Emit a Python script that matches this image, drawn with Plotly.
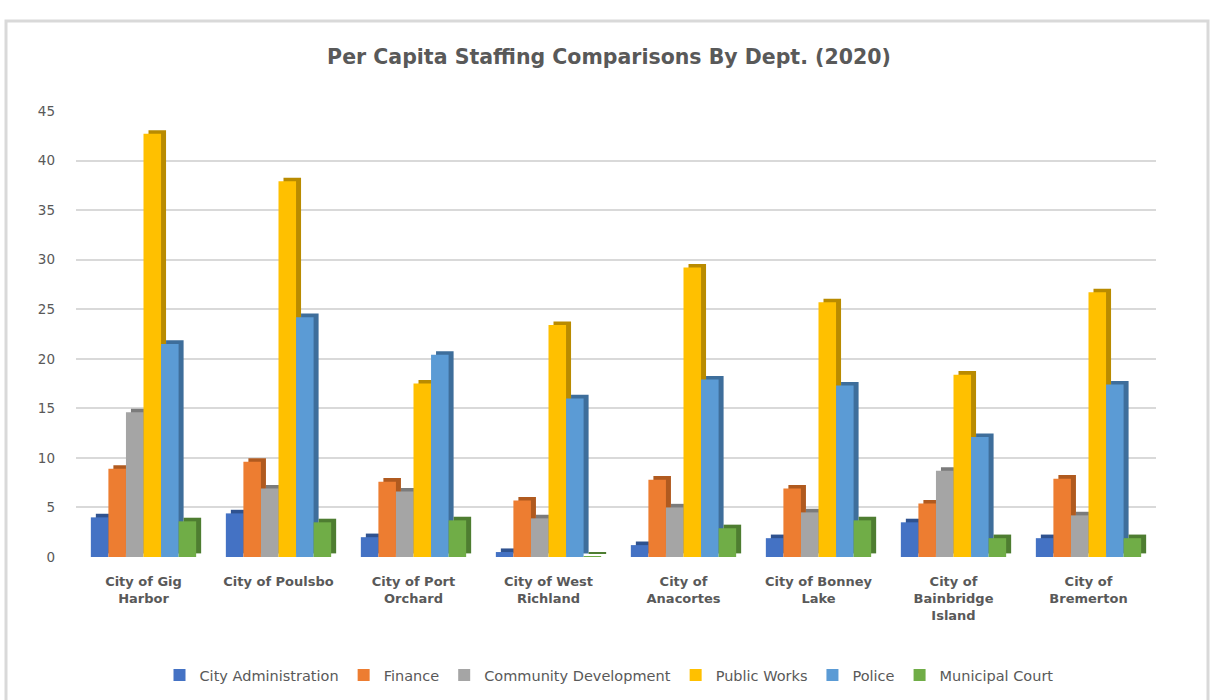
import plotly.graph_objects as go

# ---- data -------------------------------------------------------------
cities = [
    "City of Gig<br>Harbor",
    "City of Poulsbo",
    "City of Port<br>Orchard",
    "City of West<br>Richland",
    "City of<br>Anacortes",
    "City of Bonney<br>Lake",
    "City of<br>Bainbridge<br>Island",
    "City of<br>Bremerton",
]
departments = [
    "City Administration",
    "Finance",
    "Community Development",
    "Public Works",
    "Police",
    "Municipal Court",
]
city_administration = [4.0, 4.4, 2.0, 0.5, 1.2, 1.9, 3.5, 1.9]
finance = [8.9, 9.6, 7.6, 5.7, 7.8, 6.9, 5.4, 7.9]
community_development = [14.6, 6.9, 6.6, 3.9, 5.0, 4.5, 8.7, 4.2]
public_works = [42.7, 37.9, 17.5, 23.4, 29.2, 25.7, 18.4, 26.7]
police = [21.5, 24.2, 20.4, 16.0, 17.9, 17.3, 12.1, 17.4]
municipal_court = [3.6, 3.5, 3.7, 0.1, 2.9, 3.7, 1.9, 1.9]
y_ticks = [0, 5, 10, 15, 20, 25, 30, 35, 40, 45]

series = [city_administration, finance, community_development,
          public_works, police, municipal_court]

# ---- styling ----------------------------------------------------------
face_colors = ["#4472C4", "#ED7D31", "#A5A5A5", "#FFC000", "#5B9BD5", "#70AD47"]
side_colors = ["#2F528F", "#B05A1F", "#7B7B7B", "#B98B00", "#3E6E9B", "#4E7D31"]

W, H = 1218, 700
ML, MR, MT, MB = 76, 62, 111, 143
plot_w = W - ML - MR
plot_h = H - MT - MB
y_max = 45

bar_w = 0.13
first_offset = -0.39
depth_dx = 0.037                       # sideways shift of the back face (x units)
depth_dy = 3.6 * y_max / plot_h        # upward shift of the back face (y units)

x_pos = list(range(len(cities)))
font_family = "DejaVu Sans, Open Sans, sans-serif"
text_grey = "#595959"

fig = go.Figure()

# back faces first, so the next front face hides them where bars touch
for i, (vals, col) in enumerate(zip(series, side_colors)):
    fig.add_trace(go.Bar(
        x=x_pos, y=vals, base=depth_dy,
        width=bar_w, offset=first_offset + i * bar_w + depth_dx,
        marker=dict(color=col, line=dict(width=0)),
        showlegend=False, hoverinfo="skip",
    ))

for i, (name, vals, col) in enumerate(zip(departments, series, face_colors)):
    fig.add_trace(go.Bar(
        x=x_pos, y=vals, name=name,
        width=bar_w, offset=first_offset + i * bar_w,
        marker=dict(color=col, line=dict(width=0)),
    ))

# chart frame
def px_to_paper_x(px):
    return (px - ML) / plot_w

def px_to_paper_y(py):
    return (H - MB - py) / plot_h

fig.add_shape(
    type="rect", xref="paper", yref="paper",
    x0=px_to_paper_x(6), x1=px_to_paper_x(1208),
    y0=px_to_paper_y(703), y1=px_to_paper_y(21),
    line=dict(color="#D9D9D9", width=3), fillcolor="rgba(0,0,0,0)",
    layer="below",
)

fig.update_layout(
    width=W, height=H,
    margin=dict(l=ML, r=MR, t=MT, b=MB),
    barmode="overlay",
    paper_bgcolor="white", plot_bgcolor="white",
    font=dict(family=font_family, color=text_grey, size=13),
    title=dict(
        text="Per Capita Staffing Comparisons By Dept. (2020)",
        xref="container", yref="container",
        x=0.5, xanchor="center", y=1 - 57 / H, yanchor="middle",
        font=dict(family=font_family, size=20.5, color=text_grey, weight="bold"),
    ),
    xaxis=dict(
        range=[-0.5, len(cities) - 0.5],
        tickmode="array", tickvals=x_pos, ticktext=cities,
        showgrid=False, zeroline=False, showline=False, ticks="",
        tickfont=dict(family=font_family, size=13, color=text_grey, weight="bold"),
        ticklabelstandoff=15,
    ),
    yaxis=dict(
        range=[0, y_max],
        tickmode="array", tickvals=y_ticks,
        showgrid=True, gridcolor="#D9D9D9", gridwidth=1.5,
        zeroline=False, showline=False, ticks="",
        tickfont=dict(family=font_family, size=13.5, color=text_grey),
        ticklabelstandoff=20,
    ),
    legend=dict(
        orientation="h",
        xref="container", yref="container",
        x=0.5, xanchor="center", y=1 - 675 / H, yanchor="middle",
        font=dict(family=font_family, size=14.5, color=text_grey),
        itemwidth=30,
        bgcolor="rgba(0,0,0,0)",
    ),
)

fig.write_html("out.html")
